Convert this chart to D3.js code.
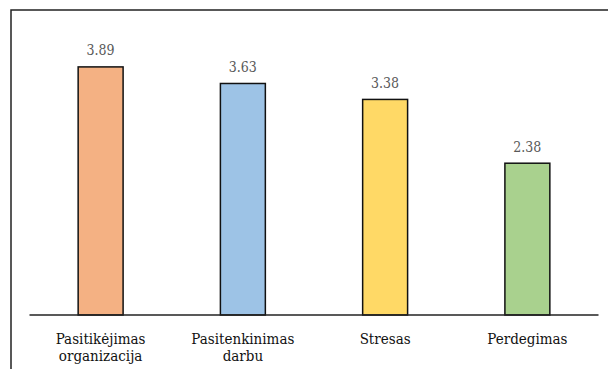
<!DOCTYPE html>
<html>
<head>
<meta charset="utf-8">
<script src="https://cdn.jsdelivr.net/npm/d3@7"></script>
<style>
  html, body { margin: 0; padding: 0; background: #fff; }
  svg { display: block; }
  svg text { font-family: "DejaVu Serif Condensed", "DejaVu Serif", serif; font-stretch: condensed; font-size: 15px; }
  svg text.val { font-size: 14px; }
</style>
</head>
<body>
<script>
// Average scores per measured construct
const categories = [["Pasitikėjimas", "organizacija"], ["Pasitenkinimas", "darbu"], ["Stresas"], ["Perdegimas"]];
const values = [3.89, 3.63, 3.38, 2.38];
const valueLabels = ["3.89", "3.63", "3.38", "2.38"];
const colors = ["#F4B183", "#9DC3E6", "#FFD966", "#A9D18E"];

const W = 608, H = 369;
const svg = d3.select("body").append("svg").attr("width", W).attr("height", H);

// frame around the chart
svg.append("rect")
  .attr("x", 11).attr("y", 10)
  .attr("width", 620).attr("height", 400)
  .attr("fill", "none").attr("stroke", "#222").attr("stroke-width", 1.5);

const x0 = 29.5, x1 = 598.5, baseY = 315;
const x = d3.scaleBand().domain(d3.range(values.length)).range([x0, x1]).padding(0);
const y = d3.scaleLinear().domain([0, 4.5]).range([baseY, 28]);
const barW = x.bandwidth() * 0.316;

const g = svg.append("g");

g.selectAll("rect.bar").data(values).join("rect")
  .attr("class", "bar")
  .attr("x", (d, i) => x(i) + x.bandwidth() / 2 - barW / 2)
  .attr("y", d => y(d))
  .attr("width", barW)
  .attr("height", d => baseY - y(d))
  .attr("fill", (d, i) => colors[i])
  .attr("stroke", "#111").attr("stroke-width", 1.5);

g.selectAll("text.val").data(values).join("text")
  .attr("class", "val")
  .attr("x", (d, i) => x(i) + x.bandwidth() / 2)
  .attr("y", d => y(d) - 11.5)
  .attr("text-anchor", "middle")
  .attr("fill", "#595959")
  .text((d, i) => valueLabels[i]);

// x axis line
svg.append("line")
  .attr("x1", x0).attr("x2", x1)
  .attr("y1", baseY).attr("y2", baseY)
  .attr("stroke", "#222").attr("stroke-width", 1.5);

// category labels
const cat = svg.selectAll("text.cat").data(categories).join("text")
  .attr("class", "cat")
  .attr("text-anchor", "middle")
  .attr("fill", "#111");
cat.selectAll("tspan").data((d, i) => d.map(t => ({ t, i }))).join("tspan")
  .attr("x", d => x(d.i) + x.bandwidth() / 2)
  .attr("y", (d, j) => 344 + j * 17)
  .text(d => d.t);
</script>
</body>
</html>
